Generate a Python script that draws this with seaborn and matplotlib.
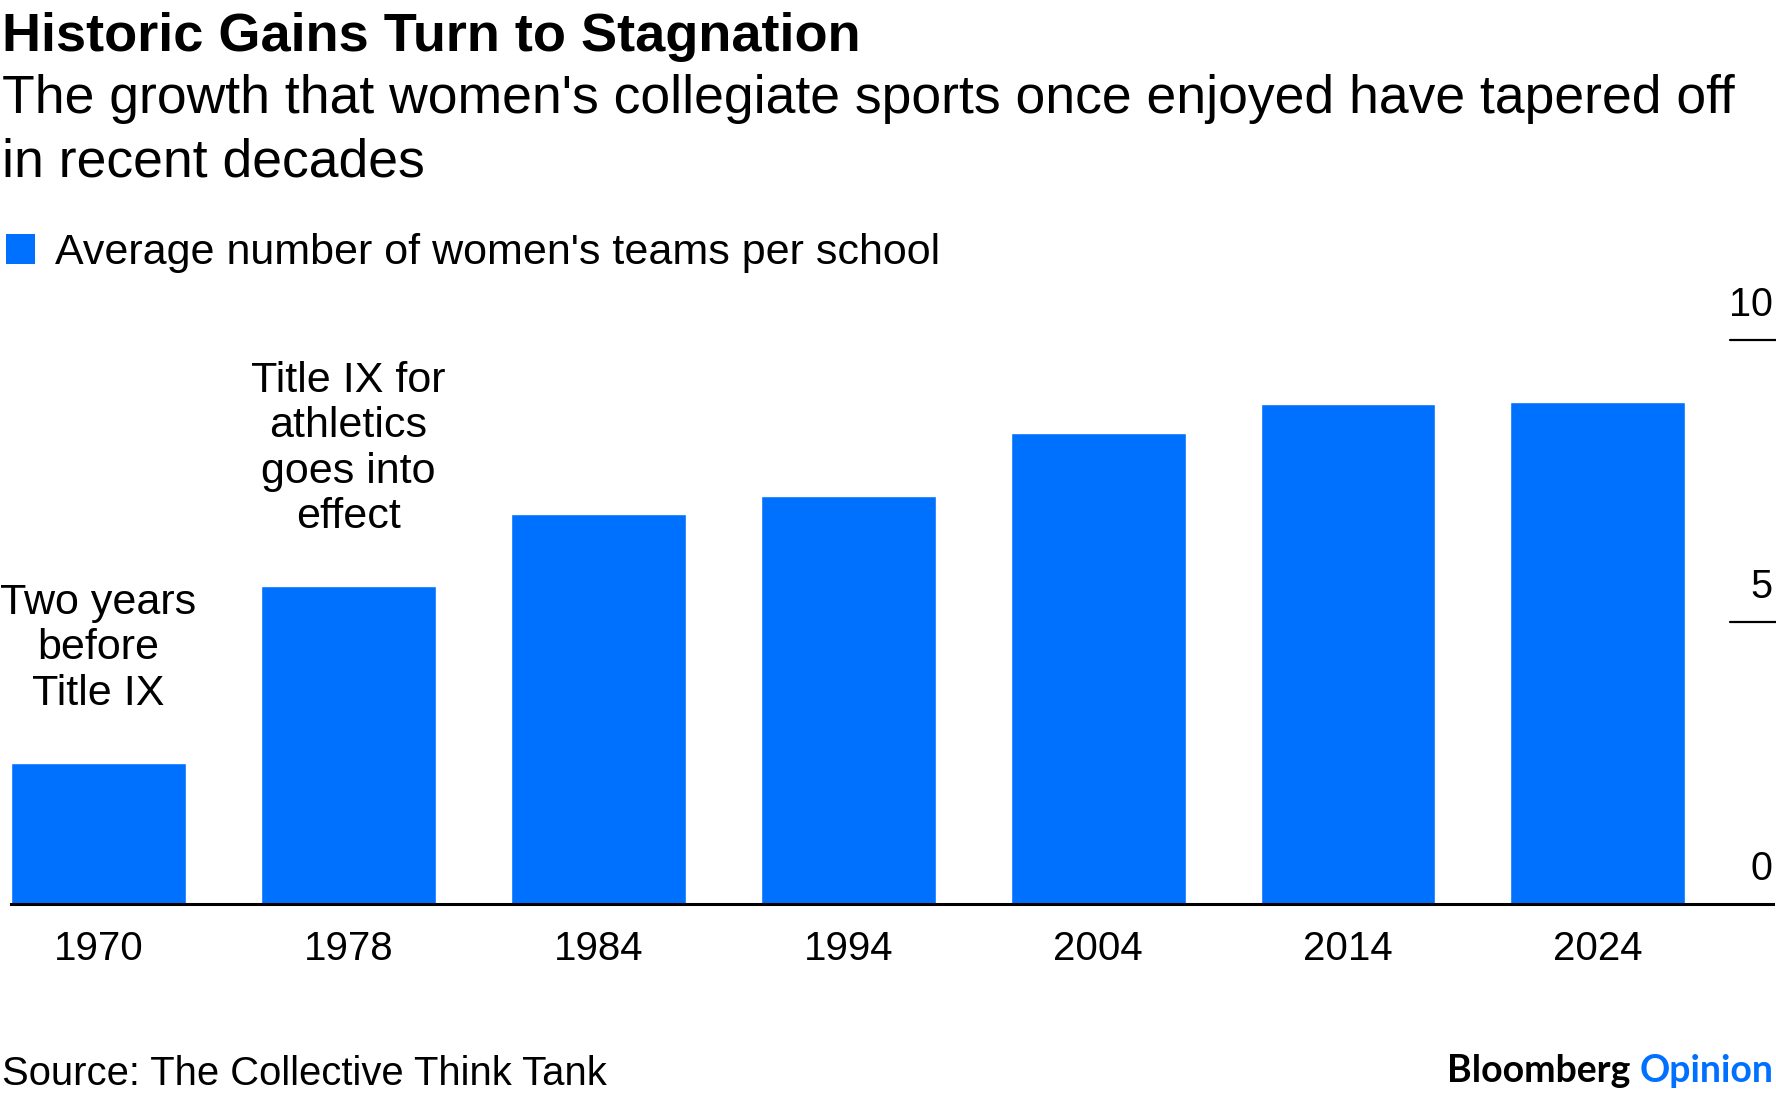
import matplotlib
matplotlib.use("Agg")
import matplotlib.pyplot as plt
from matplotlib.patches import Patch
import seaborn as sns

# data
years = ["1970", "1978", "1984", "1994", "2004", "2014", "2024"]
teams_per_school = [2.5, 5.63, 6.91, 7.24, 8.35, 8.86, 8.91]
y_ticks = [0, 5, 10]
notes = {
    "1970": "Two years\nbefore\nTitle IX",
    "1978": "Title IX for\nathletics\ngoes into\neffect",
}

title = "Historic Gains Turn to Stagnation"
subtitle = ["The growth that women's collegiate sports once enjoyed have tapered off",
            "in recent decades"]
legend_label = "Average number of women's teams per school"
source = "Source: The Collective Think Tank"

BLUE = "#0070ff"

sns.set_theme(style="white")
plt.rcParams["font.family"] = ["Liberation Sans", "DejaVu Sans"]
plt.rcParams["text.color"] = "black"
plt.rcParams["xtick.color"] = "black"
plt.rcParams["ytick.color"] = "black"

fig = plt.figure(figsize=(17.76, 10.98), dpi=100)
ax = fig.add_axes([0.0062, 0.1767, 0.992, 0.5136])

sns.barplot(x=years, y=teams_per_school, color=BLUE, saturation=1, width=0.7, ax=ax)
ax.set_xlim(-0.35, 6.70)
ax.set_ylim(0, 10)
sns.despine(ax=ax, left=True, top=True, right=True)
ax.spines["bottom"].set_color("black")
ax.spines["bottom"].set_linewidth(2.2)
ax.set_yticks([])
ax.set_xlabel("")
ax.set_ylabel("")
ax.tick_params(axis="x", length=0, pad=19, labelsize=29, colors="black")

# right-hand value labels sitting on short rules
ytrans = ax.get_yaxis_transform()
for v in y_ticks:
    ax.annotate(str(v), xy=(1.0, v), xycoords=ytrans, xytext=(0, 16),
                textcoords="offset pixels", ha="right", va="bottom",
                fontsize=28.5, color="black", annotation_clip=False)
    if v > 0:
        ax.plot([0.9756, 1.0017], [v, v], transform=ytrans, color="black",
                lw=1.6, clip_on=False)

# notes above bars
for i, (yr, val) in enumerate(zip(years, teams_per_school)):
    if yr in notes:
        ax.annotate(notes[yr], xy=(i, val), xytext=(0, 49), textcoords="offset pixels",
                    ha="center", va="bottom", fontsize=31, linespacing=1.18,
                    color="black")

# headings
fig.text(0.001, 0.9536, title, fontsize=39, fontweight="bold", va="baseline")
fig.text(0.001, 0.8971, subtitle[0], fontsize=38.5, va="baseline")
fig.text(0.001, 0.8397, subtitle[1], fontsize=38.5, va="baseline")

fig.legend(handles=[Patch(facecolor=BLUE, edgecolor="none", label=legend_label)],
           loc="center left", bbox_to_anchor=(0.0034, 0.7697), frameon=False,
           fontsize=31, handlelength=0.68, handleheight=0.68, handletextpad=0.46,
           borderpad=0, borderaxespad=0, labelcolor="black")

# footer
fig.text(0.001, 0.0118, source, fontsize=28.8, va="baseline")
op = fig.text(0.9985, 0.0146, "Opinion", color=BLUE, ha="right", va="baseline",
              fontsize=27, fontweight="bold", family=["Lato", "DejaVu Sans"])
ax.annotate("Bloomberg", xy=(0, 0), xycoords=op, xytext=(-9, 0), textcoords="offset pixels",
            ha="right", va="bottom", fontsize=27, fontweight="bold",
            family=["Lato", "DejaVu Sans"], color="black", annotation_clip=False)

fig.savefig("out.png", dpi=100)
plt.close(fig)
